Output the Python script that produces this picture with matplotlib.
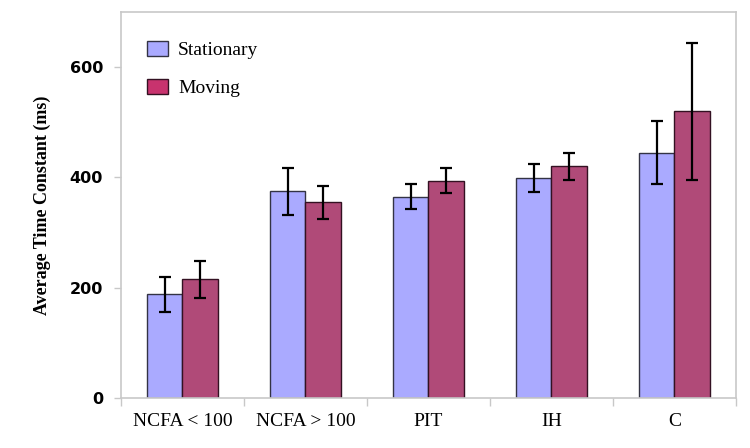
import numpy as np
import matplotlib
matplotlib.use("Agg")
from matplotlib import pyplot as plt
from matplotlib.patches import Patch

# values
categories = ["NCFA < 100", "NCFA > 100", "PIT", "IH", "C"]
stationary = [188, 375, 365, 399, 445]
stationary_err = [32, 43, 23, 25, 57]
moving = [215, 355, 394, 420, 520]
moving_err = [34, 30, 23, 24, 124]

stat_color = "#aaaaff"
move_color = "#b04a78"
grid_gray = "#c8c8c8"

fig = plt.figure(figsize=(7.5, 4.48), dpi=100)
ax = fig.add_axes([0.1613, 0.1116, 0.82, 0.8616])

x = np.arange(len(categories))
w = 0.285
err_kw = dict(ecolor="black", elinewidth=1.6, capsize=4, capthick=1.6)
ax.bar(x - w / 2, stationary, w, yerr=stationary_err, color=stat_color,
       edgecolor="#333344", linewidth=1, error_kw=err_kw, zorder=2)
ax.bar(x + w / 2, moving, w, yerr=moving_err, color=move_color,
       edgecolor="#331122", linewidth=1, error_kw=err_kw, zorder=2)

ax.set_xlim(-0.5, len(categories) - 0.5)
ax.set_ylim(0, 700)
ax.set_yticks([0, 200, 400, 600])
ax.set_yticklabels(["0", "200", "400", "600"], fontfamily="DejaVu Sans",
                   fontweight="bold", fontsize=11.5)
ax.set_xticks(x)
ax.set_xticklabels(categories, fontfamily="Liberation Serif", fontsize=14)
ax.set_xticks(np.arange(-0.5, len(categories)), minor=True)
ax.tick_params(axis="x", which="major", length=0, pad=11)
ax.tick_params(axis="x", which="minor", length=6, color=grid_gray, width=1)
ax.tick_params(axis="y", length=5, color=grid_gray, width=1, pad=8)

for s in ax.spines.values():
    s.set_color(grid_gray)
    s.set_linewidth(1.2)

ax.set_ylabel("Average Time Constant (ms)", fontfamily="Liberation Serif",
              fontweight="bold", fontsize=13, labelpad=13)

handles = [Patch(facecolor=stat_color, edgecolor="#333344", label="Stationary"),
           Patch(facecolor="#c8336e", edgecolor="#331122", label="Moving")]
ax.legend(handles=handles, loc="upper left", frameon=False,
          prop={"family": "Liberation Serif", "size": 14},
          handlelength=1.1, handleheight=0.85, handletextpad=0.5,
          labelspacing=1.0, borderpad=0, borderaxespad=0,
          bbox_to_anchor=(0.042, 0.925))

plt.savefig("out.png", dpi=100)
